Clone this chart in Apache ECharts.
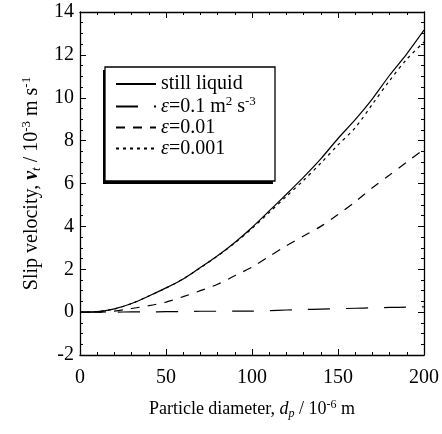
<!DOCTYPE html>
<html>
<head>
<meta charset="utf-8">
<script src="https://cdn.jsdelivr.net/npm/echarts@6/dist/echarts.min.js"></script>
<style>
  html, body { margin: 0; padding: 0; background: #fff; }
  #main { width: 442px; height: 434px; }
</style>
</head>
<body>
<div id="main"></div>
<script>
// particle diameter, 10^-6 m
var diameters = [0, 10, 20, 30, 40, 50, 60, 70, 80, 90, 100, 110, 120, 130, 140, 150, 160, 170, 180, 190, 200];
// slip velocity, 10^-3 m/s
var stillLiquid = [0, 0.02, 0.15, 0.4, 0.75, 1.13, 1.55, 2.08, 2.63, 3.25, 3.95, 4.72, 5.5, 6.3, 7.15, 8.1, 8.98, 9.95, 11.05, 12.05, 13.15];
var eps01 = [0, 0, 0, 0.01, 0.01, 0.02, 0.03, 0.04, 0.04, 0.05, 0.05, 0.07, 0.1, 0.12, 0.14, 0.16, 0.18, 0.2, 0.22, 0.23, 0.25];
var eps001 = [0, 0, 0.05, 0.17, 0.3, 0.47, 0.72, 1.0, 1.3, 1.7, 2.1, 2.6, 3.1, 3.55, 4.0, 4.55, 5.15, 5.8, 6.4, 7.0, 7.6];
var eps0001 = [0, 0.02, 0.15, 0.4, 0.75, 1.12, 1.55, 2.07, 2.62, 3.22, 3.9, 4.65, 5.4, 6.15, 6.95, 7.8, 8.6, 9.7, 10.8, 11.8, 12.6];
var seriesNames = ['still liquid', 'eps 0.1', 'eps 0.01', 'eps 0.001'];
var legendLabels = {
  'still liquid': '{n|still liquid}',
  'eps 0.1': '{e|ε}{n|=0.1 m}{sup|2}{n| s}{sup|-3}',
  'eps 0.01': '{e|ε}{n|=0.01}',
  'eps 0.001': '{e|ε}{n|=0.001}'
};

var font = 'Liberation Serif';

function pairs(ys) {
  var out = [];
  for (var i = 0; i < diameters.length; i++) {
    out.push([diameters[i], ys[i]]);
  }
  return out;
}

function lineSeries(name, ys, dash) {
  return {
    name: name,
    type: 'line',
    data: pairs(ys),
    symbol: 'none',
    smooth: 0.3,
    itemStyle: { color: '#000' },
    lineStyle: { color: '#000', width: 1.2, type: dash }
  };
}

// rich text styles, size s for normal text
function richFor(s) {
  var lh = Math.round(s * 1.15);
  var small = Math.round(s * 0.65);
  return {
    n: { fontFamily: font, fontSize: s, color: '#000', lineHeight: lh },
    e: { fontFamily: font, fontSize: s, fontStyle: 'italic', color: '#000', lineHeight: lh },
    vb: { fontFamily: font, fontSize: s, fontStyle: 'italic', fontWeight: 'bold', color: '#000', lineHeight: lh },
    it: { fontFamily: font, fontSize: s, fontStyle: 'italic', color: '#000', lineHeight: lh },
    sup: { fontFamily: font, fontSize: small, color: '#000', lineHeight: lh, verticalAlign: 'top' },
    sub: { fontFamily: font, fontSize: small, fontStyle: 'italic', color: '#000', lineHeight: lh, verticalAlign: 'bottom' }
  };
}

function axis(extra) {
  var base = {
    type: 'value',
    axisLine: { onZero: false, lineStyle: { color: '#000', width: 1.3 } },
    axisTick: { inside: true, length: 6, lineStyle: { color: '#000', width: 1 } },
    splitLine: { show: false }
  };
  return Object.assign(base, extra);
}

var myChart = echarts.init(document.getElementById('main'));
var option = {
  animation: false,
  backgroundColor: '#fff',
  grid: { left: 80, right: 18, top: 12, bottom: 79 },
  graphic: [
    { type: 'rect', shape: { x: 103, y: 70, width: 170, height: 114 }, style: { fill: '#000' }, z: 1 },
    { type: 'rect', shape: { x: 105, y: 67, width: 170, height: 114 }, style: { fill: '#fff', stroke: '#000', lineWidth: 1.3 }, z: 2 }
  ],
  legend: {
    data: seriesNames,
    orient: 'vertical',
    left: 115,
    top: 74,
    itemWidth: 40,
    itemHeight: 14,
    itemGap: 1,
    padding: 0,
    z: 5,
    itemStyle: { opacity: 0 },
    formatter: function (name) {
      return legendLabels[name];
    },
    textStyle: { rich: richFor(20), padding: [0, 0, 0, 0] }
  },
  xAxis: [
    axis({
      min: 0,
      max: 200,
      interval: 50,
      minorTick: { show: true, splitNumber: 5, length: 3, lineStyle: { color: '#000', width: 1 } },
      name: '{n|Particle diameter, }{it|d}{sub|p}{n| / 10}{sup|-6}{n| m}',
      nameLocation: 'middle',
      nameGap: 44,
      nameTextStyle: { rich: richFor(18) },
      axisLabel: { color: '#000', fontFamily: font, fontSize: 20, margin: 13 }
    }),
    axis({
      position: 'top',
      min: 0,
      max: 200,
      interval: 50,
      minorTick: { show: true, splitNumber: 5, length: 3, lineStyle: { color: '#000', width: 1 } },
      axisLabel: { show: false }
    })
  ],
  yAxis: [
    axis({
      min: -2,
      max: 14,
      interval: 2,
      minorTick: { show: true, splitNumber: 4, length: 3, lineStyle: { color: '#000', width: 1 } },
      name: '{n|Slip velocity, }{vb|v}{sub|t}{n| / 10}{sup|-3}{n| m s}{sup|-1}',
      nameLocation: 'middle',
      nameRotate: 90,
      nameGap: 18,
      nameTextStyle: { rich: richFor(20) },
      axisLabel: { color: '#000', fontFamily: font, fontSize: 20, margin: 6 }
    }),
    axis({
      position: 'right',
      min: -2,
      max: 14,
      interval: 2,
      minorTick: { show: true, splitNumber: 4, length: 3, lineStyle: { color: '#000', width: 1 } },
      axisLabel: { show: false }
    })
  ],
  series: [
    lineSeries(seriesNames[0], stillLiquid, 'solid'),
    lineSeries(seriesNames[1], eps01, [22, 16]),
    lineSeries(seriesNames[2], eps001, [9, 8]),
    lineSeries(seriesNames[3], eps0001, [3, 4])
  ]
};
myChart.setOption(option);
</script>
</body>
</html>
